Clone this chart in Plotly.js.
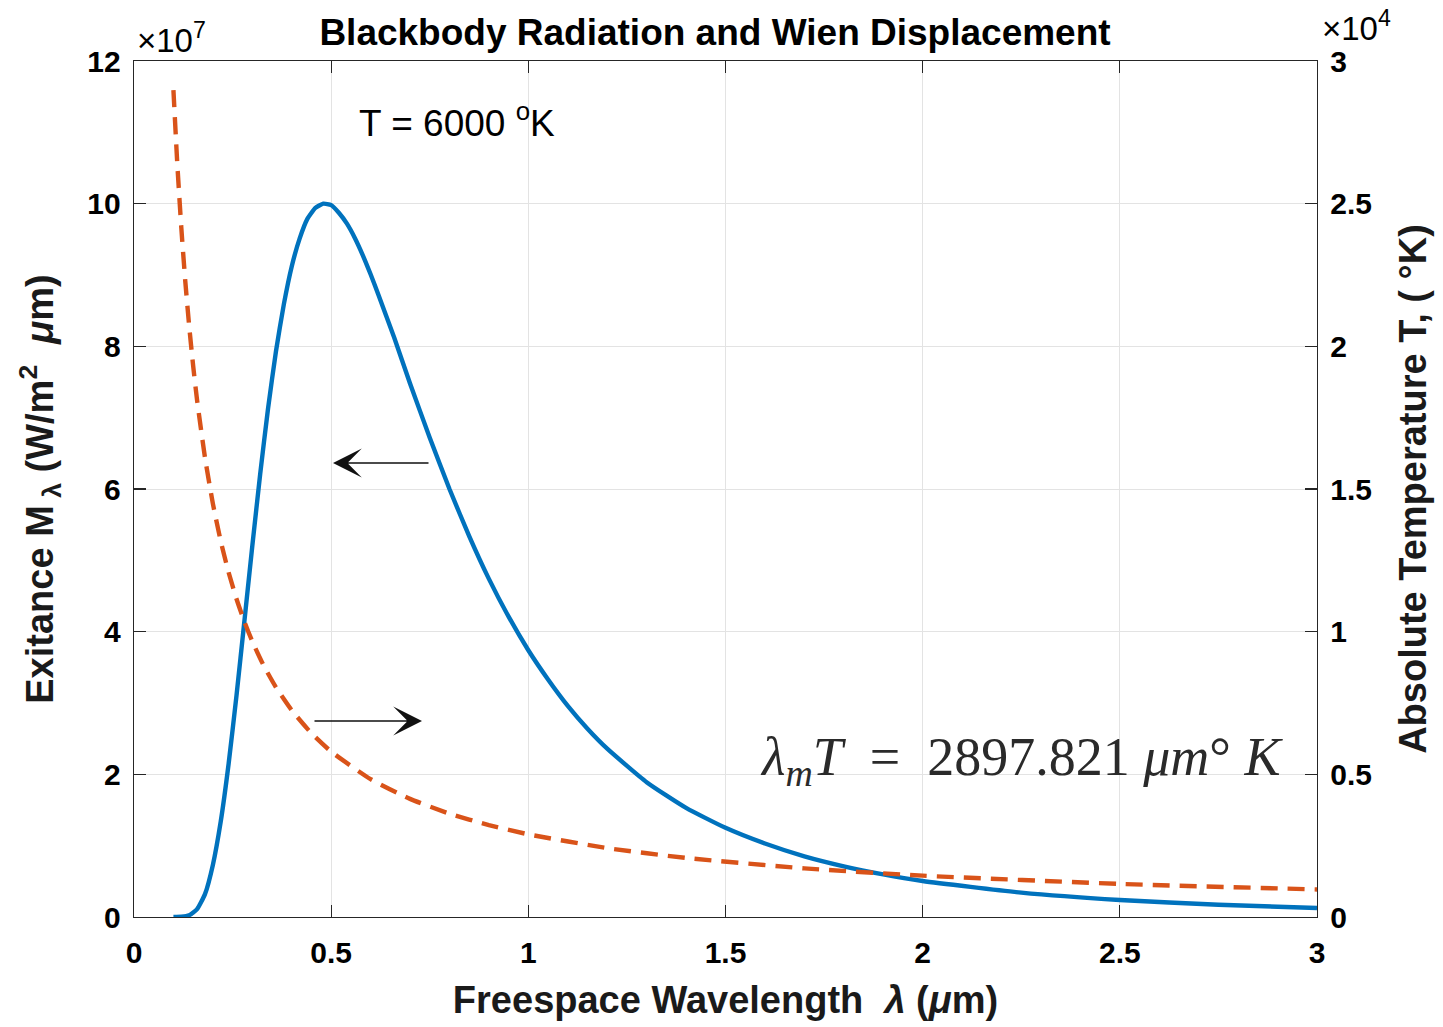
<!DOCTYPE html>
<html>
<head>
<meta charset="utf-8">
<script src="https://cdn.plot.ly/plotly-3.0.1.min.js"></script>
<style>html,body{margin:0;padding:0;background:#fff;}#chart{width:1443px;height:1027px;}</style>
</head>
<body>
<div id="chart"></div>
<script>
// Wavelength samples (micrometres) for the blackbody exitance curve
const lambdaM = [0.10,0.12,0.14,0.16,0.18,0.20,0.22,0.24,0.26,0.28,0.30,0.32,0.34,0.36,0.38,0.40,0.42,0.44,0.46,0.48,0.50,0.52,0.54,0.56,0.58,0.60,
                 0.62,0.66,0.70,0.75,0.80,0.85,0.90,0.95,1.00,1.05,1.10,1.15,1.20,
                 1.30,1.40,1.50,1.60,1.70,1.80,1.90,2.00,2.25,2.50,2.75,3.00];
// Exitance M_lambda in units of 10^7 W/m^2 um (T = 6000 K)
const exitance = [0.0001,0.003,0.025,0.11,0.32,0.73,1.34,2.15,3.11,4.15,5.20,6.21,7.13,7.93,8.59,9.12,9.51,9.79,9.94,10.00,9.98,9.87,9.72,9.52,9.28,9.01,
                  8.72,8.12,7.48,6.72,6.00,5.34,4.74,4.21,3.74,3.33,2.96,2.64,2.36,
                  1.89,1.53,1.25,1.03,0.85,0.71,0.597,0.505,0.341,0.238,0.171,0.126];
// Wavelength samples for the Wien displacement curve
const lambdaT = [0.10,0.11,0.12,0.13,0.14,0.15,0.16,0.18,0.20,0.22,0.24,0.26,0.28,0.30,0.33,0.36,0.40,0.45,0.50,
                 0.60,0.70,0.80,0.90,1.00,1.20,1.40,1.70,2.00,2.50,3.00];
// Absolute temperature T (K)
const temperature = [28978,26344,24149,22291,20699,19319,18111,16099,14489,13172,12074,11145,10349,9659,8781,8050,7245,6440,5796,
                     4830,4140,3622,3220,2898,2415,2070,1705,1449,1159,966];

const xTicks = [0,0.5,1,1.5,2,2.5,3];
const xTickText = ['0','0.5','1','1.5','2','2.5','3'];
const yTicks = [0,2,4,6,8,10,12];
const yTickText = ['0','2','4','6','8','10','12'];
const y2Ticks = [0,5000,10000,15000,20000,25000,30000];
const y2TickText = ['0','0.5','1','1.5','2','2.5','3'];

const FONT = 'Liberation Sans, Arial, Helvetica, sans-serif';
const SERIF = 'Liberation Serif, Times New Roman, serif';
const axisCol = '#262626';
const gridCol = '#e3e3e3';

const traces = [
  {x: lambdaM, y: exitance, type: 'scatter', mode: 'lines', yaxis: 'y',
   line: {color: '#0072BD', width: 4.4, shape: 'spline', smoothing: 0.5}, hoverinfo: 'skip'},
  {x: lambdaT, y: temperature, type: 'scatter', mode: 'lines', yaxis: 'y2',
   line: {color: '#D95319', width: 4.4, dash: '17px,10px', shape: 'spline', smoothing: 0.5}, hoverinfo: 'skip'}
];

const tickFont = {family: FONT, size: 30, color: '#000', weight: 'bold'};
const titleFont = {family: FONT, size: 38, color: '#1a1a1a', weight: 'bold'};

const layout = {
  width: 1443, height: 1027,
  margin: {l: 134, r: 126, t: 61, b: 110},
  paper_bgcolor: '#fff', plot_bgcolor: '#fff',
  showlegend: false,
  title: {text: 'Blackbody Radiation and Wien Displacement', x: 715/1443, xref: 'container', xanchor: 'center',
          y: 1 - 32/1027, yref: 'container', yanchor: 'middle',
          font: {family: FONT, size: 37, color: '#000', weight: 'bold'}},
  xaxis: {range: [0, 3], tickvals: xTicks, ticktext: xTickText, tickfont: tickFont,
          showgrid: true, gridcolor: gridCol, gridwidth: 1, zeroline: false,
          showline: true, linecolor: axisCol, linewidth: 1.3, mirror: 'all',
          ticks: 'inside', ticklen: 12, tickcolor: axisCol, tickwidth: 1.3,
          ticklabelstandoff: 9,
          title: {text: 'Freespace Wavelength  <i>λ</i> (<i>μ</i>m)', standoff: 18, font: titleFont}},
  yaxis: {range: [0, 12], tickvals: yTicks, ticktext: yTickText, tickfont: tickFont,
          showgrid: true, gridcolor: gridCol, gridwidth: 1, zeroline: false,
          showline: true, linecolor: axisCol, linewidth: 1.3, mirror: true,
          ticks: 'inside', ticklen: 12, tickcolor: axisCol, tickwidth: 1.3,
          ticklabelstandoff: 6,
          title: {text: 'Exitance M<sub> λ</sub> (W/m<sup>2</sup>  <i>μ</i>m)', standoff: 22, font: titleFont}},
  yaxis2: {range: [0, 30000], tickvals: y2Ticks, ticktext: y2TickText, tickfont: tickFont,
           overlaying: 'y', side: 'right', showgrid: false, zeroline: false,
           showline: true, linecolor: axisCol, linewidth: 1.3,
           ticks: 'inside', ticklen: 12, tickcolor: axisCol, tickwidth: 1.3,
           ticklabelstandoff: 6,
           title: {text: 'Absolute Temperature T, ( °K)', standoff: 28, font: titleFont}},
  annotations: [
    {text: '×10<sup>7</sup>', xref: 'paper', yref: 'paper', x: 0, y: 1, xanchor: 'left', yanchor: 'bottom',
     xshift: 1, yshift: 0, showarrow: false, font: {family: FONT, size: 33, color: '#000'}},
    {text: '×10<sup>4</sup>', xref: 'paper', yref: 'paper', x: 1, y: 1, xanchor: 'left', yanchor: 'bottom',
     xshift: 3, yshift: 12, showarrow: false, font: {family: FONT, size: 33, color: '#000'}},
    {text: 'T = 6000 <sup>o</sup>K', xref: 'paper', yref: 'paper', x: (457-134)/1183, y: (917-120)/856,
     xanchor: 'center', yanchor: 'middle', showarrow: false, font: {family: FONT, size: 37, color: '#000'}},
    {text: '<i>λ</i><sub><i>m</i></sub><i>T</i>&nbsp;&nbsp;=&nbsp;&nbsp;2897.821&nbsp;<i>μm</i>°&nbsp;<i>K</i>', xref: 'paper', yref: 'paper',
     x: (1021-134)/1183, y: (917-760)/856, xanchor: 'center', yanchor: 'middle', showarrow: false,
     font: {family: SERIF, size: 54, color: '#2a2a2a'}},
    {text: '', xref: 'paper', yref: 'paper', x: (333-134)/1183, y: (917-463)/856, ax: 97, ay: 0,
     showarrow: true, arrowhead: 3, arrowsize: 3, arrowwidth: 1.6, arrowcolor: '#111'},
    {text: '', xref: 'paper', yref: 'paper', x: (422-134)/1183, y: (917-721)/856, ax: -109, ay: 0,
     showarrow: true, arrowhead: 3, arrowsize: 3, arrowwidth: 1.6, arrowcolor: '#111'}
  ]
};

Plotly.newPlot('chart', traces, layout, {staticPlot: true, displayModeBar: false});
</script>
</body>
</html>
